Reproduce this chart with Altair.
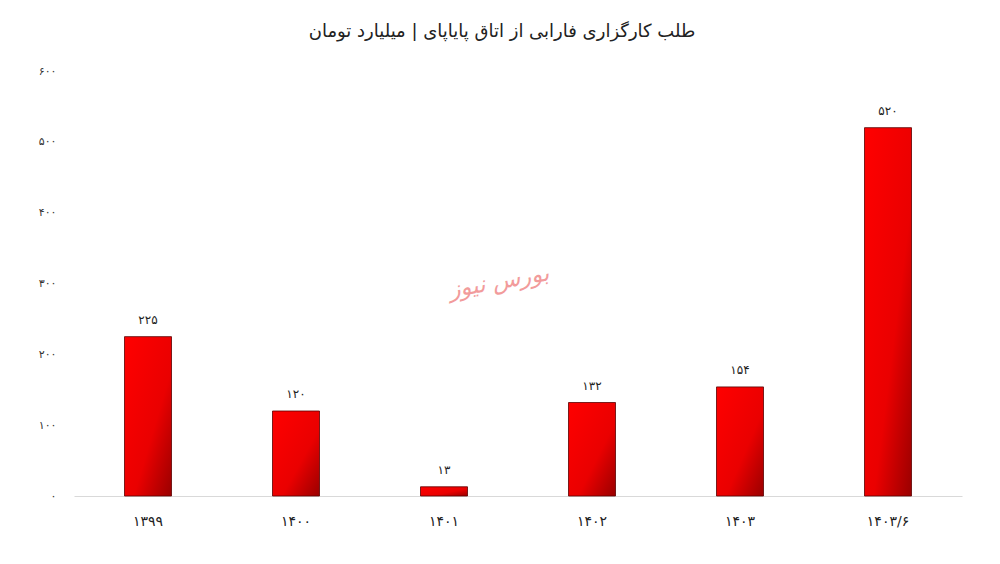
import altair as alt
import pandas as pd

categories = ["۱۳۹۹", "۱۴۰۰", "۱۴۰۱", "۱۴۰۲", "۱۴۰۳", "۱۴۰۳/۶"]
values = [225, 120, 13, 132, 154, 520]
value_labels = ["۲۲۵", "۱۲۰", "۱۳", "۱۳۲", "۱۵۴", "۵۲۰"]
y_ticks = [0, 100, 200, 300, 400, 500, 600]
y_tick_labels = ["۰", "۱۰۰", "۲۰۰", "۳۰۰", "۴۰۰", "۵۰۰", "۶۰۰"]
title_text = "طلب کارگزاری فارابی از اتاق پایاپای | میلیارد تومان"
watermark = "بورس نیوز"

df = pd.DataFrame({"cat": categories, "val": values, "lab": value_labels})

label_expr = "[" + ",".join("'" + s + "'" for s in y_tick_labels) + "][round(datum.value/100)]"

FONT = "DejaVu Sans"

x_enc = alt.X("cat:N", sort=categories, title=None,
              scale=alt.Scale(paddingInner=0, paddingOuter=0),
              axis=alt.Axis(labelAngle=0, labelFontSize=14, labelFont=FONT, labelColor="#222",
                            labelPadding=18, ticks=False, domainColor="#d9d9d9", domainWidth=1))
y_enc = alt.Y("val:Q", title=None, scale=alt.Scale(domain=[0, 600]),
              axis=alt.Axis(values=y_ticks, labelExpr=label_expr, labelFontSize=11, labelFont=FONT,
                            labelColor="#333", labelPadding=18, ticks=False, domain=False, grid=False))

grad = alt.Gradient(gradient="linear", x1=0, y1=0, x2=1, y2=1,
                    stops=[alt.GradientStop(offset=0, color="#ff0000"),
                           alt.GradientStop(offset=0.6, color="#ea0000"),
                           alt.GradientStop(offset=1, color="#9a0000")])

bars = alt.Chart(df).mark_bar(size=47, color=grad, stroke="#5a0000", strokeWidth=0.8).encode(x=x_enc, y=y_enc)

texts = alt.Chart(df).mark_text(dy=-10, baseline="bottom", fontSize=12, font=FONT, color="#222").encode(
    x=alt.X("cat:N", sort=categories), y="val:Q", text="lab:N")

wm = alt.Chart(pd.DataFrame({"t": [watermark]})).mark_text(
    fontSize=23, font=FONT, fontStyle="italic", color="#f08a8a", opacity=0.85, angle=350
).encode(x=alt.value(425), y=alt.value(211), text="t:N")

chart = alt.layer(bars, texts, wm).properties(
    width=888, height=425,
    autosize=alt.AutoSizeParams(type="none"),
    padding={"left": 66, "top": 63, "right": 22, "bottom": 50},
    title=alt.TitleParams(title_text, font=FONT, fontSize=18, fontWeight="normal", color="#222",
                          offset=24, anchor="middle", dx=-16)
).configure(background="white").configure_view(strokeWidth=0, strokeOpacity=0)

chart.save("out.html", embed_options={"renderer": "svg", "actions": False})
